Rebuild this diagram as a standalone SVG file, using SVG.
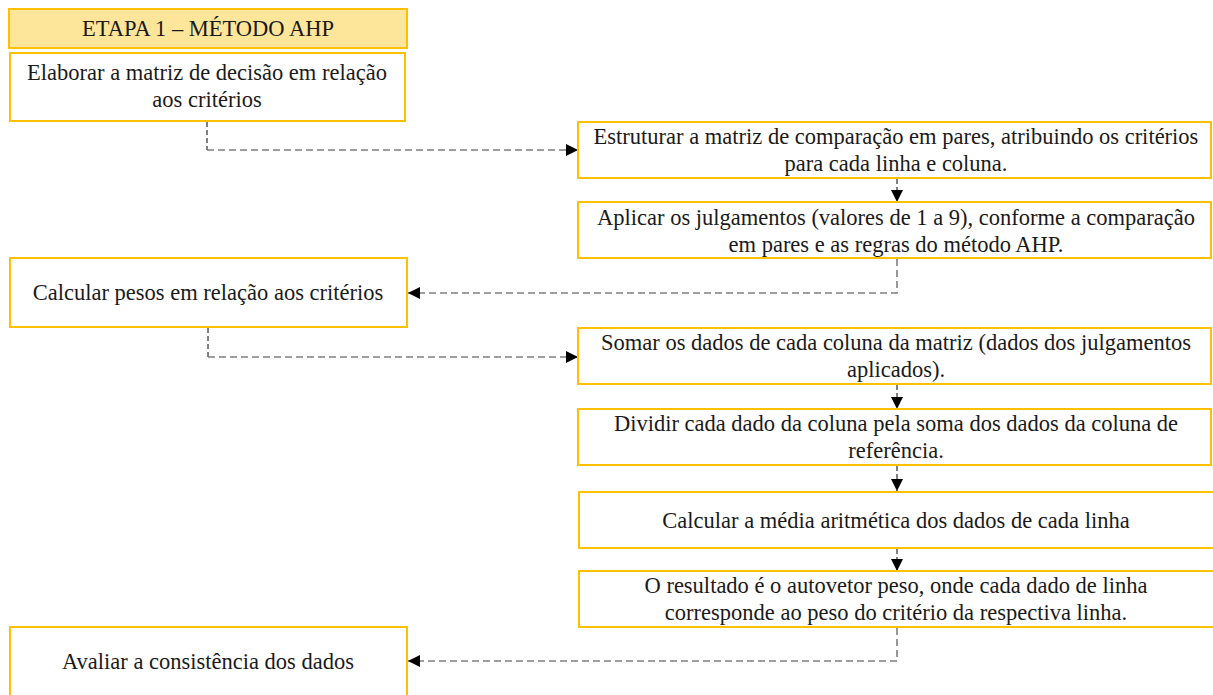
<svg xmlns="http://www.w3.org/2000/svg" width="1213" height="695" viewBox="0 0 1213 695">
<style>
.box{fill:#fff;stroke:#ffc000;stroke-width:2}
.hdr{fill:#fde59a;stroke:#ffc000;stroke-width:2}
text{font-family:"Liberation Serif","Times New Roman",serif;font-size:22.5px;fill:#1a1a1a;text-anchor:middle}
.g{fill:none;stroke:#7f7f7f;stroke-width:1.6;stroke-dasharray:7 4}
.k{fill:none;stroke:#000;stroke-width:1;stroke-dasharray:5 3}
</style>
<defs>
<marker id="ah" viewBox="0 0 10 10" refX="10" refY="5" markerWidth="12" markerHeight="12" markerUnits="userSpaceOnUse" orient="auto">
<path d="M0,0 L10,5 L0,10 Z" fill="#000"/>
</marker>
</defs>
<rect width="1213" height="695" fill="#fff"/>
<g id="connectors">
<path class="k" d="M207,122 V150"/>
<path class="g" d="M207,150 H578" marker-end="url(#ah)"/>
<path class="k" d="M897,179 V202" marker-end="url(#ah)"/>
<path class="g" d="M897,259 V293 H408" marker-end="url(#ah)"/>
<path class="k" d="M208,328 V357"/>
<path class="g" d="M208,357 H578" marker-end="url(#ah)"/>
<path class="k" d="M897,385 V409" marker-end="url(#ah)"/>
<path class="k" d="M897,466 V491" marker-end="url(#ah)"/>
<path class="k" d="M897,549 V571" marker-end="url(#ah)"/>
<path class="g" d="M897,628 V661 H408" marker-end="url(#ah)"/>
</g>
<g id="header">
<rect class="hdr" x="9" y="9" width="398" height="39"/>
<text x="208" y="36">ETAPA 1 – MÉTODO AHP</text>
</g>
<g id="n1">
<rect class="box" x="10" y="53" width="395" height="68"/>
<text x="207" y="80">Elaborar a matriz de decisão em relação</text>
<text x="207" y="107">aos critérios</text>
</g>
<g id="n2">
<rect class="box" x="578" y="122" width="633" height="56"/>
<text x="896" y="144">Estruturar a matriz de comparação em pares, atribuindo os critérios</text>
<text x="896" y="171">para cada linha e coluna.</text>
</g>
<g id="n3">
<rect class="box" x="578" y="202" width="633" height="56"/>
<text x="896" y="225">Aplicar os julgamentos (valores de 1 a 9), conforme a comparação</text>
<text x="896" y="252">em pares e as regras do método AHP.</text>
</g>
<g id="n4">
<rect class="box" x="10" y="258" width="397" height="69"/>
<text x="208" y="300">Calcular pesos em relação aos critérios</text>
</g>
<g id="n5">
<rect class="box" x="578" y="328" width="633" height="56"/>
<text x="896" y="350">Somar os dados de cada coluna da matriz (dados dos julgamentos</text>
<text x="896" y="377">aplicados).</text>
</g>
<g id="n6">
<rect class="box" x="578" y="409" width="633" height="56"/>
<text x="896" y="431">Dividir cada dado da coluna pela soma dos dados da coluna de</text>
<text x="896" y="458">referência.</text>
</g>
<g id="n7">
<rect class="box" x="579" y="492" width="640" height="56"/>
<text x="896" y="528">Calcular a média aritmética dos dados de cada linha</text>
</g>
<g id="n8">
<rect class="box" x="579" y="571" width="640" height="56"/>
<text x="896" y="593">O resultado é o autovetor peso, onde cada dado de linha</text>
<text x="896" y="620">corresponde ao peso do critério da respectiva linha.</text>
</g>
<g id="n9">
<rect class="box" x="10" y="627" width="397" height="80"/>
<text x="208" y="669">Avaliar a consistência dos dados</text>
</g>
</svg>
